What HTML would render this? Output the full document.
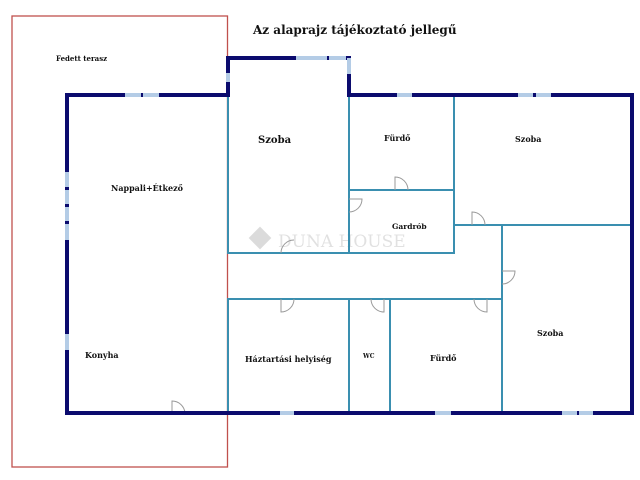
<!DOCTYPE html>
<html><head><meta charset="utf-8"><style>
html,body{margin:0;padding:0;background:#fff;width:640px;height:480px;overflow:hidden}
svg{display:block}
text{font-family:"DejaVu Serif","Liberation Serif",serif;font-weight:bold;fill:#111}
</style></head><body>
<svg width="640" height="480" viewBox="0 0 640 480">
<rect x="12" y="16" width="215.5" height="451" fill="none" stroke="#c0504d" stroke-width="1.3"/>
<text x="253" y="34" font-size="12">Az alaprajz tájékoztató jellegű</text>
<text x="56" y="61" font-size="7">Fedett terasz</text>
<!-- watermark -->
<g opacity="0.35">
<rect x="252" y="230" width="16" height="16" fill="#999" transform="rotate(45 260 238)"/>
<text x="278" y="247" font-size="17" style="font-weight:normal;fill:#aaa">DUNA HOUSE</text>
</g>
<g stroke="#3a8fb0" stroke-width="2" fill="none">
<path d="M228 95 V253 H454 V95"/>
<path d="M349 95 V253"/>
<path d="M349 190 H454"/>
<path d="M454 225 H632"/>
<path d="M502 225 V299"/>
<path d="M228 413 V299 H502 V413"/>
<path d="M349 299 V413 M390 299 V413"/>
</g>
<g stroke="#999" stroke-width="1" fill="none">
<path d="M395 190 V177 A13 13 0 0 1 408 190"/>
<path d="M349 212 A13 13 0 0 0 362 199 H349"/>
<path d="M472 225 V212 A13 13 0 0 1 485 225"/>
<path d="M502 284 A13 13 0 0 0 515 271 H502"/>
<path d="M281 253 A13 13 0 0 1 294 240"/>
<path d="M281 299 V312 A13 13 0 0 0 294 299"/>
<path d="M384 299 V312 A13 13 0 0 1 371 299"/>
<path d="M487 299 V312 A13 13 0 0 1 474 299"/>
<path d="M172 413 V401 A13 13 0 0 1 185 413 Z"/>
</g>
<path d="M67 95 H228 V58 H349 V95 H632 V413 H67 Z" fill="none" stroke="#0b0b6e" stroke-width="4"/>
<g stroke="#b4cce6" stroke-width="4">
<path d="M125 95 H141 M143 95 H159"/>
<path d="M296 58 H327 M329 58 H346"/>
<path d="M349 58 V74"/>
<path d="M228 73 V82"/>
<path d="M397 95 H412"/>
<path d="M518 95 H533 M536 95 H551"/>
<path d="M67 172 V187 M67 190 V204 M67 207 V221 M67 224 V240"/>
<path d="M67 334 V350"/>
<path d="M280 413 H294"/>
<path d="M435 413 H451"/>
<path d="M562 413 H577 M579 413 H593"/>
</g>
<g font-size="8">
<text x="258" y="143" font-size="10">Szoba</text>
<text x="111" y="191">Nappali+Étkező</text>
<text x="384" y="141">Fürdő</text>
<text x="515" y="142">Szoba</text>
<text x="392" y="229" font-size="7.5">Gardrób</text>
<text x="85" y="358">Konyha</text>
<text x="245" y="362">Háztartási helyiség</text>
<text x="363" y="358" font-size="6">WC</text>
<text x="430" y="361">Fürdő</text>
<text x="537" y="336">Szoba</text>
</g>
</svg>
</body></html>
